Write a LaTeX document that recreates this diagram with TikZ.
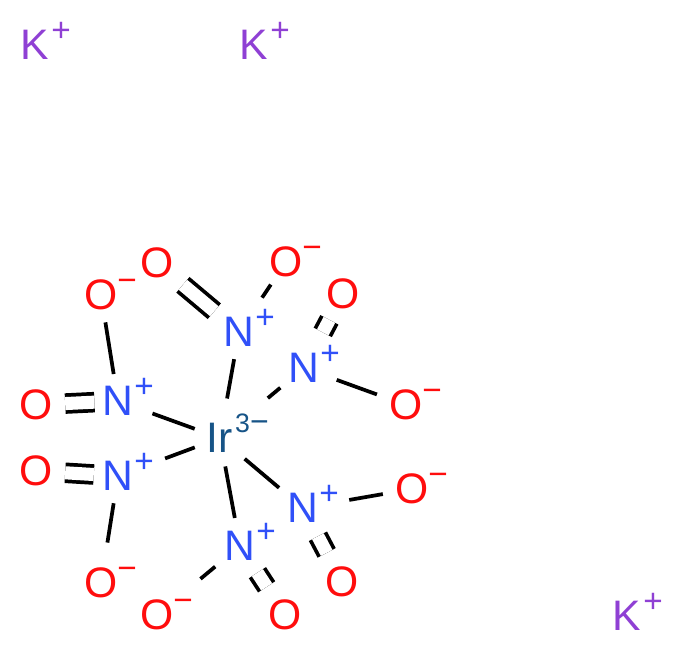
\documentclass[tikz,border=0pt]{standalone}
\usepackage{fontspec}
\setmainfont{Liberation Sans}
\definecolor{oxred}{HTML}{FF0D0D}
\definecolor{niblue}{HTML}{3050F8}
\definecolor{kviolet}{HTML}{8F40D4}
\definecolor{irblue}{HTML}{175487}
\tikzset{
	atom/.style={circle, inner sep=0, minimum size=39pt, font=\fontsize{32}{32}\selectfont},
	charge/.style={inner sep=0, font=\fontsize{25}{25}\selectfont},
	bond/.style={line width=2.8pt, black},
	dbond/.style={bond, double=white, double distance=9.8pt}
}
\begin{document}
\begin{tikzpicture}[x=0.75pt, y=-0.75pt]
	%%%%% START %%%%%
	\useasboundingbox (0, 0) rectangle (682, 652);
	
	\node[atom, text=kviolet] (k1) at (35, 45) {K};
	\node[atom, text=kviolet] (k2) at (254, 45) {K};
	\node[atom, text=kviolet] (k3) at (627, 616) {K};
	
	\node[atom, text=irblue] (ir) at (220, 438) {Ir};
	\node[charge, text=irblue, font=\fontsize{20}{20}\selectfont] (irq) at (252, 423) {3\fontsize{24}{24}\selectfont −};
	
	\node[atom, text=niblue] (n1) at (239, 332) {N};
	\node[atom, text=niblue] (n2) at (304, 368) {N};
	\node[atom, text=niblue] (n3) at (118, 401) {N};
	\node[atom, text=niblue] (n4) at (118, 476) {N};
	\node[atom, text=niblue] (n5) at (303, 508) {N};
	\node[atom, text=niblue] (n6) at (240, 546) {N};
	
	\node[atom, text=oxred] (o1a) at (157, 263) {O};
	\node[atom, text=oxred] (o1b) at (286, 262) {O};
	\node[atom, text=oxred] (o2a) at (343, 294) {O};
	\node[atom, text=oxred] (o2b) at (406, 405) {O};
	\node[atom, text=oxred] (o3a) at (36, 405) {O};
	\node[atom, text=oxred] (o3b) at (101, 295) {O};
	\node[atom, text=oxred] (o4a) at (36, 471) {O};
	\node[atom, text=oxred] (o4b) at (101, 583) {O};
	\node[atom, text=oxred] (o5a) at (342, 582) {O};
	\node[atom, text=oxred] (o5b) at (412, 489) {O};
	\node[atom, text=oxred] (o6a) at (285, 615) {O};
	\node[atom, text=oxred] (o6b) at (157, 615) {O};
	
	\draw[bond, shorten <=10.4pt, shorten >=1pt] (ir) -- (n1);
	\draw[bond, shorten <=27pt, shorten >=3.4pt] (ir) -- (n2);
	\draw[bond, shorten <=0.5pt, shorten >=7.8pt] (ir) -- (n3);
	\draw[bond, shorten <=0.5pt, shorten >=18pt] (ir) -- (n4);
	\draw[bond, shorten <=4.5pt, shorten >=3.8pt] (ir) -- (n5);
	\draw[bond, shorten <=2pt, shorten >=1.7pt] (ir) -- (n6);
	
	\draw[dbond, shorten <=4.5pt, shorten >=5.7pt] (n1) -- (o1a);
	\draw[bond, shorten <=11.3pt, shorten >=0.7pt] (n1) -- (o1b);
	\draw[dbond, shorten <=10.5pt, shorten >=2.2pt] (n2) -- (o2a);
	\draw[bond, shorten <=6.4pt, shorten >=3.5pt] (n2) -- (o2b);
	\draw[dbond, shorten <=-2pt, shorten >=2.2pt] (n3) -- (o3a);
	\draw[bond, shorten <=0.8pt, shorten >=1.1pt] (n3) -- (o3b);
	\draw[dbond, shorten <=-1.5pt, shorten >=2.2pt] (n4) -- (o4a);
	\draw[bond, shorten <=1pt, shorten >=11pt] (n4) -- (o4b);
	\draw[dbond, shorten <=4.3pt, shorten >=5pt] (n5) -- (o5a);
	\draw[bond, shorten <=15.5pt, shorten >=2.5pt] (n5) -- (o5b);
	\draw[dbond, shorten <=4.2pt, shorten >=5.5pt] (n6) -- (o6a);
	\draw[bond, shorten <=4.5pt, shorten >=22.7pt] (n6) -- (o6b);
	
	% plus signs
	\foreach \aname/\acol in {k1/kviolet, k2/kviolet, k3/kviolet, n1/niblue, n2/niblue, n3/niblue, n4/niblue, n5/niblue, n6/niblue}
		\node[charge, text=\acol] (\aname q) at ([xshift=19.5pt, yshift=9.5pt]\aname.center) {+};
	
	% minus signs
	\foreach \oname in {o1b, o2b, o3b, o4b, o5b, o6b}
		\node[charge, text=oxred] (\oname q) at ([xshift=19.5pt, yshift=7.3pt]\oname.center) {−};
	%%%%% END %%%%%
\end{tikzpicture}
\end{document}
